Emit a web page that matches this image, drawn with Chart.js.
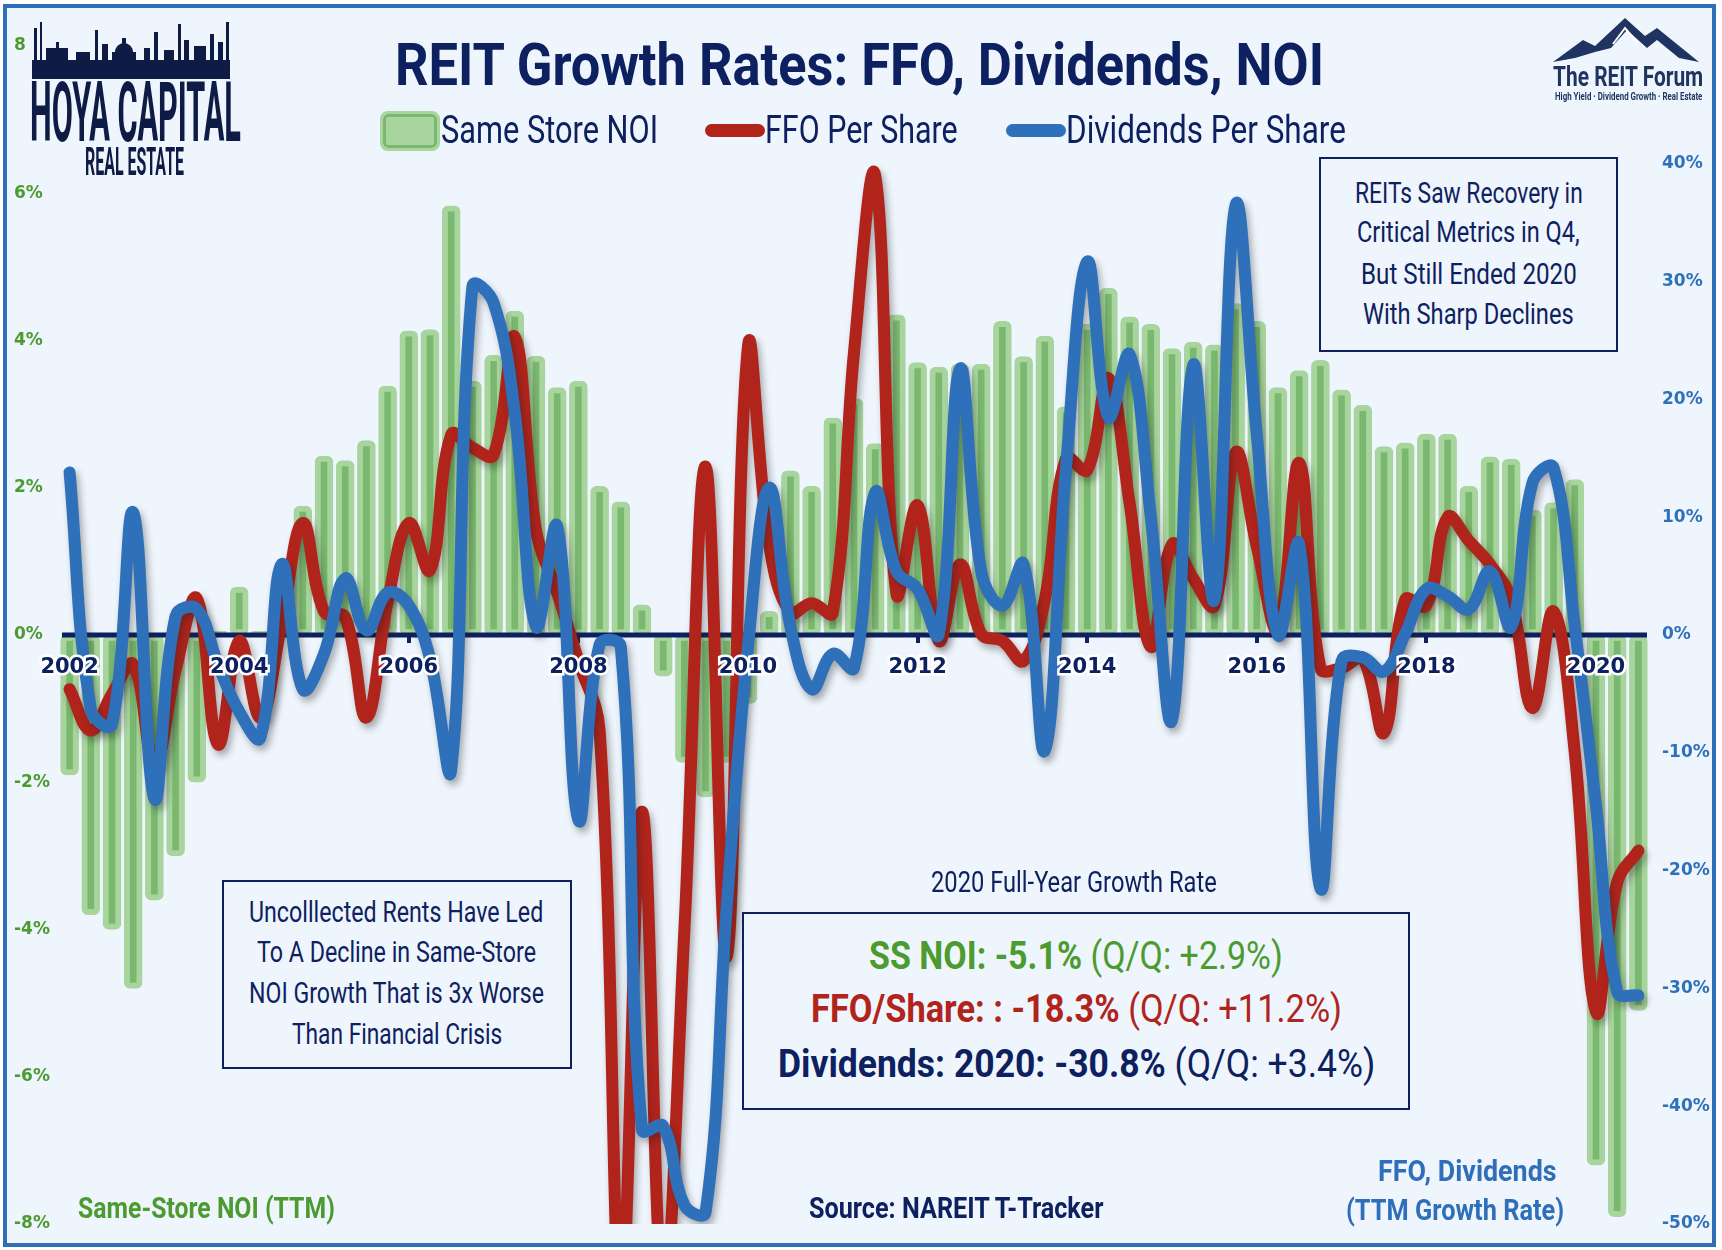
<!DOCTYPE html>
<html>
<head>
<meta charset="utf-8">
<script src="https://cdn.jsdelivr.net/npm/chart.js@4.4.1/dist/chart.umd.min.js"></script>
<style>
html, body { margin: 0; padding: 0; background: #ffffff; }
#page { position: relative; width: 1722px; height: 1250px; overflow: hidden; }
#frame { position: absolute; left: 3px; top: 4px; width: 1705px; height: 1235px; border: 4px solid #2f6fba; background: #eff5fc; }
#chart { position: absolute; left: 0; top: 0; }
.t { position: absolute; white-space: nowrap; line-height: 1; font-family: Roboto, "Open Sans", sans-serif; transform-origin: 0 50%; }
.box { position: absolute; border: 2px solid #0d2160; background: #eff5fc; box-sizing: border-box; }
.sym { position: absolute; }
</style>
</head>
<body>
<div id="page">
  <div id="frame"></div>
  <canvas id="chart" width="1722" height="1250"></canvas>

  <!-- logos -->
  <svg class="sym" style="left:32px;top:22px" width="198" height="57" viewBox="0 0 198 57">
    <g fill="#0d1b45">
      <rect x="0" y="38" width="198" height="19"/>
      <rect x="2" y="6" width="3" height="34"/><rect x="8" y="0" width="2" height="40"/>
      <rect x="14" y="26" width="22" height="14"/><rect x="24" y="20" width="3" height="8"/>
      <rect x="44" y="30" width="14" height="10"/><rect x="63" y="8" width="3" height="32"/>
      <rect x="70" y="22" width="6" height="18"/>
      <circle cx="92" cy="30" r="9"/><rect x="90" y="16" width="4" height="8"/><rect x="80" y="30" width="24" height="10"/>
      <rect x="112" y="26" width="6" height="14"/><rect x="122" y="10" width="4" height="30"/>
      <rect x="132" y="28" width="10" height="12"/><rect x="146" y="2" width="3" height="38"/>
      <rect x="152" y="18" width="5" height="22"/><rect x="162" y="24" width="12" height="16"/>
      <rect x="178" y="12" width="4" height="28"/><rect x="186" y="20" width="5" height="20"/><rect x="194" y="0" width="3" height="40"/>
    </g>
  </svg>
  <div class="t fit" data-w="211" style="left:30px;top:71px;font-size:84px;font-weight:700;color:#0d1b45">HOYA CAPITAL</div>
  <div class="t fit" data-w="99" style="left:85px;top:143px;font-size:39px;font-weight:700;color:#0d1b45">REAL ESTATE</div>

  <svg class="sym" style="left:1553px;top:18px" width="146" height="46" viewBox="0 0 146 46">
    <polygon fill="#1f3461" points="0,44 30,22 42,28 72,0 92,18 104,10 146,44 126,40 104,22 94,30 74,12 58,30 42,34 22,40"/>
    <polyline fill="none" stroke="#ffffff" stroke-width="2" points="60,26 72,10 84,24"/>
  </svg>
  <div class="t fit" data-w="150" style="left:1553px;top:63px;font-size:28px;font-weight:700;color:#1f3461">The REIT Forum</div>
  <div class="t fit" data-w="147" style="left:1555px;top:91.6px;font-size:10px;font-weight:700;color:#1f3461">High Yield · Dividend Growth · Real Estate</div>

  <!-- title and legend -->
  <div class="t fit" data-w="929" style="left:395px;top:34.8px;font-size:60px;font-weight:700;color:#0d2160">REIT Growth Rates: FFO, Dividends, NOI</div>
  <div id="legend"></div>

  <!-- annotation boxes -->
  <div class="box" style="left:1319px;top:157px;width:299px;height:195px"></div>
  <div class="t fit" data-w="228" style="left:1355px;top:177.9px;font-size:30px;color:#0d2160">REITs Saw Recovery in</div>
  <div class="t fit" data-w="223" style="left:1357px;top:217.4px;font-size:30px;color:#0d2160">Critical Metrics in Q4,</div>
  <div class="t fit" data-w="216" style="left:1361px;top:259.4px;font-size:30px;color:#0d2160">But Still Ended 2020</div>
  <div class="t fit" data-w="211" style="left:1363px;top:299.4px;font-size:30px;color:#0d2160">With Sharp Declines</div>

  <div class="box" style="left:222px;top:880px;width:350px;height:189px"></div>
  <div class="t fit" data-w="294" style="left:249px;top:897.4px;font-size:30px;color:#0d2160">Uncolllected Rents Have Led</div>
  <div class="t fit" data-w="279" style="left:257px;top:937.4px;font-size:30px;color:#0d2160">To A Decline in Same-Store</div>
  <div class="t fit" data-w="295" style="left:249px;top:978.4px;font-size:30px;color:#0d2160">NOI Growth That is 3x Worse</div>
  <div class="t fit" data-w="210" style="left:292px;top:1019.4px;font-size:30px;color:#0d2160">Than Financial Crisis</div>

  <div class="t fit" data-w="286" style="left:931px;top:867.9px;font-size:29px;color:#0d2160">2020 Full-Year Growth Rate</div>
  <div class="box" style="left:742px;top:912px;width:668px;height:198px"></div>
  <div class="t fit" data-w="414" style="left:869px;top:937px;font-size:39px;color:#4b9b30"><b>SS NOI: -5.1%</b> (Q/Q: +2.9%)</div>
  <div class="t fit" data-w="531" style="left:811px;top:990px;font-size:39px;color:#b0241c"><b>FFO/Share: : -18.3%</b> (Q/Q: +11.2%)</div>
  <div class="t fit" data-w="597" style="left:778px;top:1045px;font-size:39px;color:#0d2160"><b>Dividends: 2020: -30.8%</b> (Q/Q: +3.4%)</div>

  <div class="t fit" data-w="257" style="left:78px;top:1193.4px;font-size:30px;font-weight:700;color:#4b9b30">Same-Store NOI (TTM)</div>
  <div class="t fit" data-w="294" style="left:809px;top:1193.4px;font-size:30px;font-weight:700;color:#0d2160">Source: NAREIT T-Tracker</div>
  <div class="t fit" data-w="179" style="left:1378px;top:1156.4px;font-size:30px;font-weight:700;color:#2f6fba">FFO, Dividends</div>
  <div class="t fit" data-w="218" style="left:1346px;top:1195.4px;font-size:30px;font-weight:700;color:#2f6fba">(TTM Growth Rate)</div>
</div>

<script>
// quarterly, Q1 2002 .. Q3 2020
const years = ['2002', '2003', '2004', '2005', '2006', '2007', '2008', '2009', '2010', '2011',
               '2012', '2013', '2014', '2015', '2016', '2017', '2018', '2019', '2020'];

// same store NOI, TTM growth (%), left axis
const noi = [-1.9, -3.8, -4.0, -4.8,   -3.6, -3.0, -2.0, 0.05,   0.65, 0.05, 0.8, 1.75,
             2.43, 2.37, 2.64, 3.38,   4.13, 4.15, 5.83, 3.45,   3.8, 4.4, 3.79, 3.36,
             3.45, 2.02, 1.81, 0.41,   -0.56, -1.73, -2.2, -1.73,   -0.93, 0.32, 2.23, 2.02,
             2.95, 3.21, 2.6, 4.35,   3.7, 3.64, 3.68, 3.68,   4.26, 3.78, 4.06, 3.1,
             4.22, 4.71, 4.32, 4.22,   3.89, 3.98, 3.94, 4.5,   4.26, 3.36, 3.59, 3.73,
             3.33, 3.12, 2.56, 2.61,   2.73, 2.73, 2.02, 2.42,   2.39, 1.7, 1.8, 2.11,
             -7.2, -7.9, -5.1];

// FFO per share, TTM growth (%), right axis
const ffo = [-4.6, -8.1, -5.0, -2.5,   -11, -3, 3.1, -9.3,   -0.5, -7, 1, 9.5,
             2, 1.5, -7, 2.8,   9.5, 5.5, 17, 15.9,   15.3, 25.3, 8.9, 3.6,
             -2.2, -8.1, -56, -15,   -56, -25, 14.3, -27.3,   24.5, 7.7, 1.9, 2.7,
             1.9, 24, 39, 3.5,   11, -0.5, 6, 0.1,   -0.5, -2.2, 3, 15,
             14, 21.8, 11.2, -1,   7.7, 4.8, 2.5, 15.5,   7.5, 0.5, 14.6, -2.8,
             -2.8, -2, -8.3, 3,   2.5, 10, 8, 6,   3, -6.2, 2, -10,
             -32, -21, -18.3];

// dividends per share, TTM growth (%), right axis
const dividends = [13.8, -6.3, -7.6, 10.4,   -13.9, 1.6, 2.2, -2.5,   -6.5, -8.7, 6.0, -4.6,
                   -1.6, 4.8, 0.4, 3.6,   2.5, -2, -11.4, 29.6,   28.2, 18.8, 0.7, 9.2,
                   -15.7, -0.8, -1, -42,   -41.7, -48.4, -49, -23,   -1, 12.5, 0.7, -4.6,
                   -1.6, -2.8, 12.1, 5.4,   3.9, 0.1, 22.6, 5.4,   2.5, 6.0, -9.8, 14.2,
                   31.7, 18.5, 23.8, 10,   -7.2, 22.9, 3, 36.5,   17, 0, 7.7, -21.5,
                   -2.2, -1.9, -3.1, 0.1,   3.9, 3.3, 2.2, 5.4,   0.7, 12.9, 14.2, 0.7,
                   -14.5, -30.3, -30.6];

const quarterLabels = [];
years.forEach(y => {
    for (let q = 1; q <= 4; q++) {
        if (quarterLabels.length < noi.length) quarterLabels.push(y + ' Q' + q);
    }
});

const NAVY = '#0d2160';
const RED = '#b0241c';
const BLUE = '#2f70ba';
const GREEN = '#7ab86f';
const GREEN_LIGHT = '#a8d59e';

// legend built from the series colours
document.getElementById('legend').innerHTML =
    '<div class="sym" style="left:383px;top:114px;width:48px;height:28px;background:' + GREEN_LIGHT +
    ';border:3px solid ' + GREEN + ';border-radius:5px;outline:3px solid ' + GREEN_LIGHT + '"></div>' +
    '<div class="t fit" data-w="217" style="left:441px;top:110.5px;font-size:38px;color:' + NAVY + '">Same Store NOI</div>' +
    '<div class="sym" style="left:705px;top:124px;width:60px;height:13px;border-radius:7px;background:' + RED + '"></div>' +
    '<div class="t fit" data-w="193" style="left:765px;top:110.5px;font-size:38px;color:' + NAVY + '">FFO Per Share</div>' +
    '<div class="sym" style="left:1006px;top:124px;width:60px;height:13px;border-radius:7px;background:' + BLUE + '"></div>' +
    '<div class="t fit" data-w="280" style="left:1066px;top:110.5px;font-size:38px;color:' + NAVY + '">Dividends Per Share</div>';
document.getElementById('page').appendChild(document.getElementById('legend'));

// squeeze text to the widths of the original (condensed face)
document.querySelectorAll('.fit').forEach(el => {
    const w = parseFloat(el.dataset.w);
    el.style.transform = 'scaleX(' + (w / el.offsetWidth) + ')';
});

// zero line between bars and lines, drop shadow under lines
const chartExtras = {
    id: 'chartExtras',
    beforeDatasetDraw(chart, args) {
        if (args.meta.type === 'line') {
            const c = chart.ctx;
            c.save();
            c.shadowColor = 'rgba(30,30,30,0.35)';
            c.shadowBlur = 7;
            c.shadowOffsetX = 3;
            c.shadowOffsetY = 5;
        }
    },
    afterDatasetDraw(chart, args) {
        const c = chart.ctx;
        if (args.meta.type === 'line') {
            c.restore();
            return;
        }
        const y = chart.scales.y.getPixelForValue(0);
        c.save();
        c.strokeStyle = NAVY;
        c.lineWidth = 5;
        c.beginPath();
        c.moveTo(chart.chartArea.left + 3, y);
        c.lineTo(chart.chartArea.right - 2, y);
        c.stroke();
        c.restore();
    }
};

const ctx = document.getElementById('chart').getContext('2d');
new Chart(ctx, {
    type: 'bar',
    data: {
        labels: quarterLabels,
        datasets: [{
            type: 'bar',
            label: 'Same Store NOI',
            data: noi,
            yAxisID: 'y',
            backgroundColor: GREEN,
            borderColor: GREEN_LIGHT,
            borderWidth: 6,
            borderSkipped: false,
            borderRadius: 6,
            barThickness: 18,
            order: 3
        }, {
            type: 'line',
            label: 'FFO Per Share',
            data: ffo,
            yAxisID: 'y1',
            borderColor: RED,
            borderWidth: 12,
            tension: 0.4,
            pointRadius: 0,
            borderCapStyle: 'round',
            borderJoinStyle: 'round',
            fill: false,
            clip: { left: 6, top: 6, right: 6, bottom: 0 },
            order: 2
        }, {
            type: 'line',
            label: 'Dividends Per Share',
            data: dividends,
            yAxisID: 'y1',
            borderColor: BLUE,
            borderWidth: 12,
            tension: 0.4,
            pointRadius: 0,
            borderCapStyle: 'round',
            borderJoinStyle: 'round',
            fill: false,
            clip: { left: 6, top: 6, right: 6, bottom: 0 },
            order: 1
        }]
    },
    options: {
        responsive: false,
        animation: false,
        layout: { padding: { left: 14, right: 12, top: 46, bottom: 26 } },
        plugins: {
            legend: { display: false },
            title: { display: false },
            tooltip: { enabled: false }
        },
        scales: {
            x: {
                position: { y: 0 },
                offset: true,
                border: { display: false },
                grid: {
                    display: true,
                    drawOnChartArea: false,
                    drawTicks: true,
                    tickLength: 8,
                    lineWidth: 4,
                    offset: false,
                    color: c => (c.index % 8 === 0 ? NAVY : 'rgba(0,0,0,0)')
                },
                ticks: {
                    z: 1,
                    autoSkip: false,
                    maxRotation: 0,
                    minRotation: 0,
                    padding: 12,
                    color: NAVY,
                    textStrokeColor: '#ffffff',
                    textStrokeWidth: 5,
                    font: { family: 'DejaVu Sans', weight: 'bold', size: 21 },
                    callback: (v, i) => (i % 8 === 0 ? quarterLabels[i].slice(0, 4) : '')
                }
            },
            y: {
                position: 'left',
                min: -8,
                max: 8,
                grid: { display: false, drawTicks: false },
                border: { display: false },
                ticks: {
                    stepSize: 2,
                    crossAlign: 'far',
                    padding: 0,
                    color: '#4b9b30',
                    font: { family: 'DejaVu Sans', weight: 'bold', size: 17 },
                    callback: v => (v === 8 ? '8' : v + '%')
                },
                afterFit: s => { s.width = 45; }
            },
            y1: {
                position: 'right',
                min: -50,
                max: 50,
                grid: { display: false, drawTicks: false },
                border: { display: false },
                ticks: {
                    stepSize: 10,
                    padding: 13,
                    color: BLUE,
                    font: { family: 'DejaVu Sans', weight: 'bold', size: 17 },
                    callback: v => (v === 50 ? '' : v + '%')
                },
                afterFit: s => { s.width = 61; }
            }
        }
    },
    plugins: [chartExtras]
});
</script>
</body>
</html>
